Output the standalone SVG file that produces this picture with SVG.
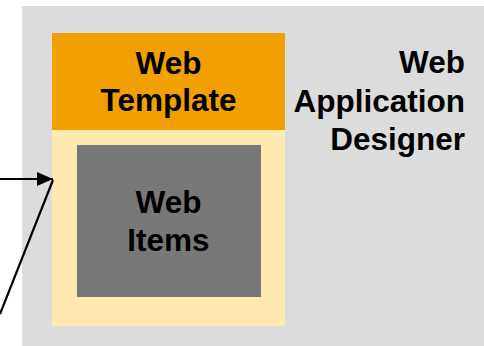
<svg xmlns="http://www.w3.org/2000/svg" width="484" height="346" viewBox="0 0 484 346">
<style>
text{font-family:"Liberation Sans",Arial,sans-serif;font-weight:bold;font-size:31.5px;fill:#000}
.c{text-anchor:middle}
.r{text-anchor:end}
.ln{stroke:#000;stroke-width:2.2;fill:none}
</style>
<defs>
<marker id="ah" markerWidth="16" markerHeight="14" refX="16" refY="7" orient="auto" markerUnits="userSpaceOnUse">
<path d="M0,0 L16,7 L0,14 Z" fill="#000"/>
</marker>
</defs>
<g id="designer">
<rect x="22" y="6" width="462" height="340" fill="#DCDCDC"/>
<text class="r" x="465" y="73">Web</text>
<text class="r" x="465" y="112">Application</text>
<text class="r" x="465" y="150">Designer</text>
</g>
<g id="template">
<rect x="52" y="130" width="233" height="196" fill="#FFE9B0"/>
<rect x="52" y="33" width="233" height="97" fill="#F0A000"/>
<text class="c" x="168.5" y="74">Web</text>
<text class="c" x="168.5" y="111">Template</text>
</g>
<g id="items">
<rect x="77" y="145" width="184" height="152" fill="#787878"/>
<text class="c" x="168.5" y="213">Web</text>
<text class="c" x="168.5" y="251">Items</text>
</g>
<g id="connectors">
<line class="ln" x1="0" y1="179" x2="53" y2="179" marker-end="url(#ah)"/>
<line class="ln" x1="0" y1="314" x2="53" y2="180"/>
</g>
</svg>
